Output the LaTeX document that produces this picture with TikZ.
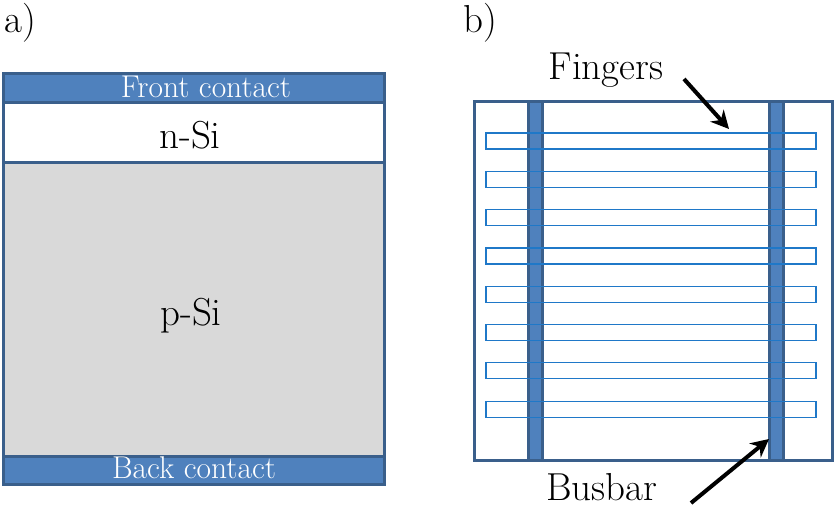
\documentclass[tikz,border=0pt]{standalone}
\usetikzlibrary{arrows.meta}
\definecolor{cband}{HTML}{4F81BD}
\definecolor{cedge}{HTML}{3A5F8B}
\definecolor{cfinger}{HTML}{1F78C8}
\definecolor{cbulk}{HTML}{D9D9D9}
\begin{document}
\begin{tikzpicture}[x=1pt,y=-1pt,
  layer/.style={draw=cedge,line width=3pt,anchor=north west,inner sep=0pt,outer sep=0pt,minimum width=381pt},
  contactband/.style={layer,fill=cband},
  contacttext/.style={text=white,font=\fontsize{31.5}{31.5}\selectfont,inner sep=0pt,anchor=base},
  biglabel/.style={font=\fontsize{39}{39}\selectfont,inner sep=0pt,anchor=base},
  fingerbox/.style={draw=cfinger,line width=1.2pt,anchor=north west,inner sep=0pt,outer sep=0pt,
    minimum width=330pt,minimum height=16pt},
  busbarbox/.style={draw=cedge,fill=cband,line width=3pt,anchor=north west,inner sep=0pt,outer sep=0pt,
    minimum width=14pt,minimum height=358pt},
  pointer/.style={line width=4pt,-{Stealth[length=18pt,width=18pt]}}]
\useasboundingbox (0,0) rectangle (834,508);

% panel labels
\node[biglabel,anchor=base west] (la) at (4,33) {a)};
\node[biglabel,anchor=base west] (lb) at (463,33) {b)};

% a) cross-section of the cell
\node[layer,fill=cbulk,minimum height=294pt] (psi) at (3,162) {};
\node[layer,fill=white,minimum height=60pt] (nsi) at (3,102) {};
\node[contactband,minimum height=29pt] (front) at (3,74) {};
\node[contactband,minimum height=28pt] (back) at (3,456) {};
\node[biglabel] (psitext) at (191,325) {p-Si};
\node[biglabel] (nsitext) at (190,148) {n-Si};
\node[contacttext] (fronttext) at (206,98) {Front contact};
\node[contacttext] (backtext) at (194,478) {Back contact};

% b) top view: wafer, busbars and fingers
\node[layer,fill=white,minimum width=358pt,minimum height=358pt] (wafer) at (474,102) {};
\node[busbarbox] (busL) at (528,102) {};
\node[busbarbox] (busR) at (769,102) {};
\foreach \i in {0,...,7}{
  \node[fingerbox] (f\i) at (486,{133+38.3*\i}) {};
}

% callouts
\node[biglabel] (fingers) at (606,80) {Fingers};
\node[biglabel] (busbar) at (602,500) {Busbar};
\coordinate (fs) at (684,79);
\coordinate (ft) at (729,129);
\coordinate (bs) at (691,503);
\coordinate (bt) at (769,439);
\draw[pointer] (fs) -- (ft);
\draw[pointer] (bs) -- (bt);
\end{tikzpicture}
\end{document}
